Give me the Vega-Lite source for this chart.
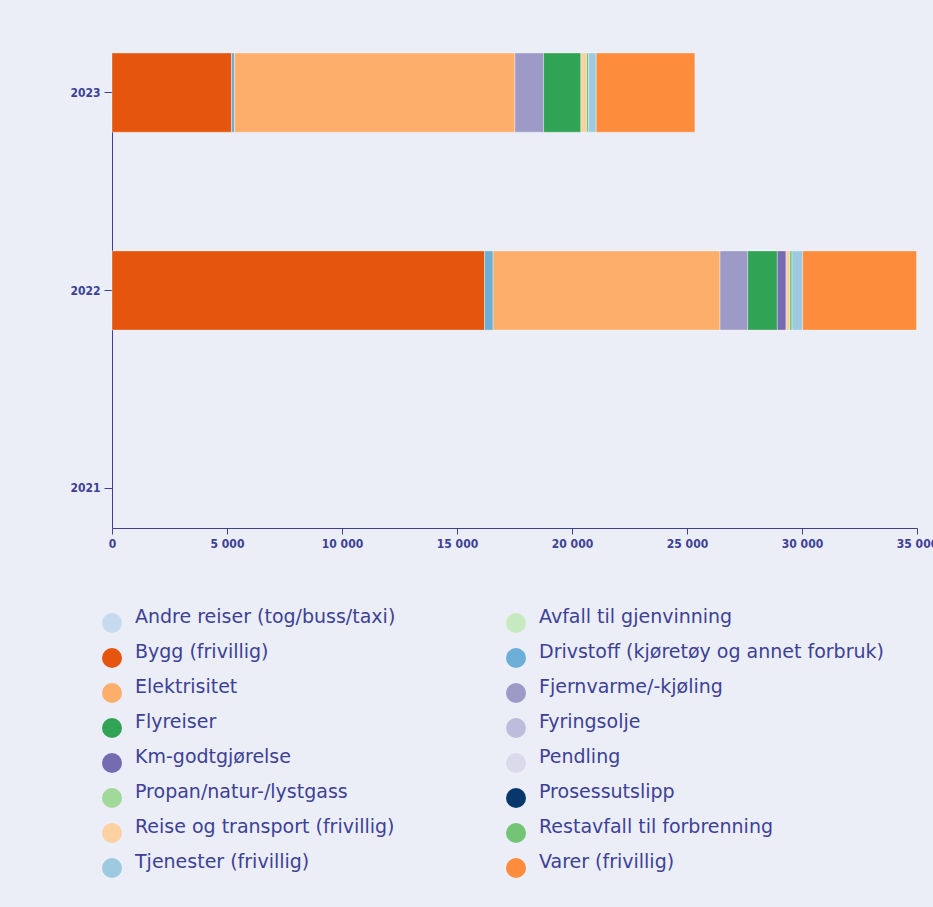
{
  "$schema": "https://vega.github.io/schema/vega-lite/v6.json",
  "width": 805,
  "height": 475,
  "padding": {"left": 69, "top": 52, "right": 0, "bottom": 30},
  "background": "#ebeef7",
  "config": {
    "view": {"stroke": null},
    "font": "DejaVu Sans Condensed"
  },
  "data": {
    "values": [
      {"year": "2023", "kategori": "Bygg (frivillig)", "verdi": 5196},
      {"year": "2023", "kategori": "Drivstoff (kjøretøy og annet forbruk)", "verdi": 130},
      {"year": "2023", "kategori": "Elektrisitet", "verdi": 12191},
      {"year": "2023", "kategori": "Fjernvarme/-kjøling", "verdi": 1248},
      {"year": "2023", "kategori": "Flyreiser", "verdi": 1622},
      {"year": "2023", "kategori": "Reise og transport (frivillig)", "verdi": 248},
      {"year": "2023", "kategori": "Restavfall til forbrenning", "verdi": 87},
      {"year": "2023", "kategori": "Tjenester (frivillig)", "verdi": 330},
      {"year": "2023", "kategori": "Varer (frivillig)", "verdi": 4291},
      {"year": "2022", "kategori": "Bygg (frivillig)", "verdi": 16200},
      {"year": "2022", "kategori": "Drivstoff (kjøretøy og annet forbruk)", "verdi": 370},
      {"year": "2022", "kategori": "Elektrisitet", "verdi": 9866},
      {"year": "2022", "kategori": "Fjernvarme/-kjøling", "verdi": 1204},
      {"year": "2022", "kategori": "Flyreiser", "verdi": 1287},
      {"year": "2022", "kategori": "Km-godtgjørelse", "verdi": 378},
      {"year": "2022", "kategori": "Reise og transport (frivillig)", "verdi": 161},
      {"year": "2022", "kategori": "Restavfall til forbrenning", "verdi": 100},
      {"year": "2022", "kategori": "Tjenester (frivillig)", "verdi": 465},
      {"year": "2022", "kategori": "Varer (frivillig)", "verdi": 4950}
    ]
  },
  "mark": {"type": "bar", "stroke": "#ffffff", "strokeOpacity": 0.35, "strokeWidth": 1},
  "encoding": {
    "y": {
      "field": "year",
      "type": "nominal",
      "scale": {"domain": ["2023", "2022", "2021"], "paddingInner": 0.6, "paddingOuter": 0},
      "axis": {
        "title": null,
        "domainColor": "#3d4196",
        "tickColor": "#3d4196",
        "tickSize": 8,
        "labelColor": "#3d4196",
        "labelFont": "DejaVu Sans Condensed",
        "labelFontWeight": "bold",
        "labelFontSize": 12,
        "labelPadding": 4
      }
    },
    "x": {
      "field": "verdi",
      "type": "quantitative",
      "aggregate": "sum",
      "stack": "zero",
      "scale": {"domain": [0, 35000]},
      "axis": {
        "title": null,
        "grid": false,
        "values": [0, 5000, 10000, 15000, 20000, 25000, 30000, 35000],
        "labelExpr": "replace(format(datum.value, ','), regexp(',', 'g'), ' ')",
        "domainColor": "#3d4196",
        "tickColor": "#3d4196",
        "tickSize": 6,
        "labelColor": "#3d4196",
        "labelFont": "DejaVu Sans Condensed",
        "labelFontWeight": "bold",
        "labelFontSize": 12,
        "labelPadding": 4,
        "labelFlush": false
      }
    },
    "color": {
      "field": "kategori",
      "type": "nominal",
      "scale": {
        "domain": [
          "Andre reiser (tog/buss/taxi)",
          "Avfall til gjenvinning",
          "Bygg (frivillig)",
          "Drivstoff (kjøretøy og annet forbruk)",
          "Elektrisitet",
          "Fjernvarme/-kjøling",
          "Flyreiser",
          "Fyringsolje",
          "Km-godtgjørelse",
          "Pendling",
          "Propan/natur-/lystgass",
          "Prosessutslipp",
          "Reise og transport (frivillig)",
          "Restavfall til forbrenning",
          "Tjenester (frivillig)",
          "Varer (frivillig)"
        ],
        "range": [
          "#c6dbef",
          "#c7e9c0",
          "#e6550d",
          "#6baed6",
          "#fdae6b",
          "#9e9ac8",
          "#31a354",
          "#bcbddc",
          "#756bb1",
          "#dadaeb",
          "#a1d99b",
          "#08386b",
          "#fdd0a2",
          "#74c476",
          "#9ecae1",
          "#fd8d3c"
        ]
      },
      "legend": {
        "title": null,
        "orient": "none",
        "legendX": -10,
        "legendY": 560,
        "direction": "horizontal",
        "columns": 2,
        "symbolType": "circle",
        "symbolSize": 400,
        "symbolStrokeWidth": 0,
        "symbolOpacity": 1,
        "labelFont": "DejaVu Sans",
        "labelFontSize": 19,
        "labelColor": "#3d4196",
        "labelLimit": 500,
        "labelOffset": 13,
        "labelBaseline": "alphabetic",
        "rowPadding": 10,
        "columnPadding": 110
      }
    }
  }
}
